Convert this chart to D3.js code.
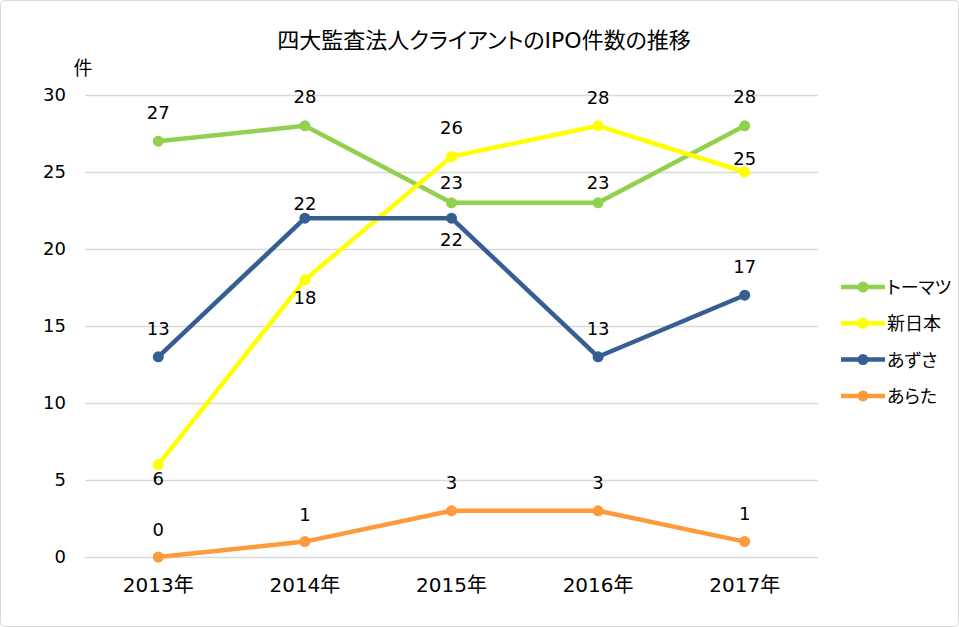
<!DOCTYPE html>
<html>
<head>
<meta charset="utf-8">
<script src="https://cdn.jsdelivr.net/npm/d3@7"></script>
<style>
  body { margin: 0; background: #fff; }
  svg text { font-family: "DejaVu Sans", "Noto Sans CJK JP", sans-serif; fill: #000; }
  .kana { font-feature-settings: "palt"; }
</style>
</head>
<body>
<svg width="959" height="627"></svg>
<script>
const years = ["2013年", "2014年", "2015年", "2016年", "2017年"];
const seriesNames = ["トーマツ", "新日本", "あずさ", "あらた"];
const tohmatsu = [27, 28, 23, 23, 28];
const shinnihon = [6, 18, 26, 28, 25];
const azusa = [13, 22, 22, 13, 17];
const arata = [0, 1, 3, 3, 1];
const yTicks = [0, 5, 10, 15, 20, 25, 30];

const colors = ["#92d050", "#ffff00", "#365e92", "#fd9a3b"];

// label baseline offset from the point (px), negative = above
const labelDy = [
    [-22, -23, -14, -14, -23],
    [20, 24, -23, -22, -7],
    [-22, -8, 28, -22, -22],
    [-21, -21, -22, -22, -22]
];

var svg = d3.select("svg");

svg.append("rect")
    .attr("x", 0.5).attr("y", 0.5)
    .attr("width", 958).attr("height", 626)
    .attr("rx", 4)
    .attr("fill", "#fff")
    .attr("stroke", "#d9d9d9");

var xScale = d3.scaleBand().domain(years).range([85, 818]),
    yScale = d3.scaleLinear().domain([0, 30]).range([557, 95]);

var cx = function (i) { return xScale(years[i]) + xScale.bandwidth() / 2; };

// title
svg.append("text")
    .attr("class", "kana")
    .attr("x", 484).attr("y", 48)
    .attr("text-anchor", "middle")
    .style("font-size", "22px")
    .text("四大監査法人クライアントのIPO件数の推移");

// unit
svg.append("text")
    .attr("x", 83).attr("y", 75)
    .attr("text-anchor", "middle")
    .style("font-size", "19px")
    .text("件");

// grid
svg.append("g")
    .selectAll("line")
    .data(yTicks)
    .enter().append("line")
    .attr("x1", 85).attr("x2", 818)
    .attr("y1", function (d) { return yScale(d) + 0.5; })
    .attr("y2", function (d) { return yScale(d) + 0.5; })
    .attr("stroke", "#d9d9d9")
    .attr("stroke-width", 1.5);

// y axis
var yAxis = svg.append("g")
    .attr("transform", "translate(85,0)")
    .call(d3.axisLeft(yScale).tickValues(yTicks).tickSize(0).tickPadding(19));
yAxis.select(".domain").remove();
yAxis.selectAll("text")
    .style("font-size", "18px")
    .attr("font-family", null);

// x axis
var xAxis = svg.append("g")
    .attr("transform", "translate(0,557)")
    .call(d3.axisBottom(xScale).tickSize(0).tickPadding(21));
xAxis.select(".domain").remove();
xAxis.selectAll("text")
    .style("font-size", "20px")
    .attr("font-family", null);

var allSeries = [tohmatsu, shinnihon, azusa, arata];

var line = d3.line()
    .x(function (d, i) { return cx(i); })
    .y(function (d) { return yScale(d); });

allSeries.forEach(function (vals, s) {
    var g = svg.append("g");
    g.append("path")
        .datum(vals)
        .attr("d", line)
        .attr("fill", "none")
        .attr("stroke", colors[s])
        .attr("stroke-width", 4.5)
        .attr("stroke-linejoin", "round")
        .attr("stroke-linecap", "round");
    g.selectAll("circle")
        .data(vals)
        .enter().append("circle")
        .attr("cx", function (d, i) { return cx(i); })
        .attr("cy", function (d) { return yScale(d); })
        .attr("r", 5.5)
        .attr("fill", colors[s]);
});

allSeries.forEach(function (vals, s) {
    svg.append("g")
        .selectAll("text")
        .data(vals)
        .enter().append("text")
        .attr("x", function (d, i) { return cx(i); })
        .attr("y", function (d, i) { return yScale(d) + labelDy[s][i]; })
        .attr("text-anchor", "middle")
        .style("font-size", "18px")
        .text(function (d) { return d; });
});

// legend
var legend = svg.append("g")
    .selectAll("g")
    .data(seriesNames)
    .enter().append("g")
    .attr("transform", function (d, i) { return "translate(841," + (287 + i * 36.3) + ")"; });
legend.append("line")
    .attr("x1", 0).attr("x2", 44)
    .attr("stroke", function (d, i) { return colors[i]; })
    .attr("stroke-width", 4.5);
legend.append("circle")
    .attr("cx", 22).attr("r", 5.5)
    .attr("fill", function (d, i) { return colors[i]; });
legend.append("text")
    .attr("class", "kana")
    .attr("x", 46).attr("y", 7)
    .style("font-size", "18px")
    .text(function (d) { return d; });
</script>
</body>
</html>
